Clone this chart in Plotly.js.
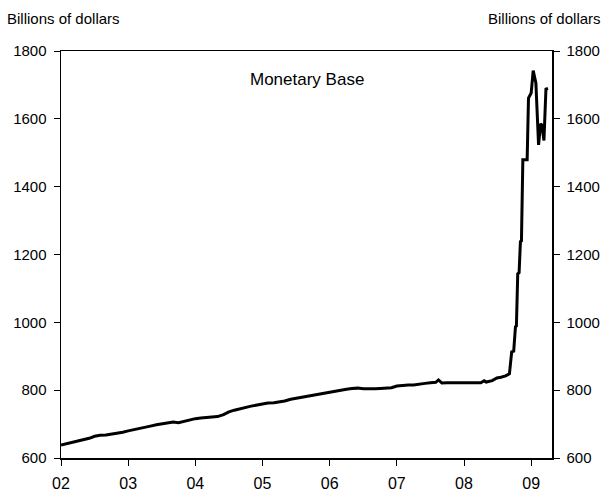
<!DOCTYPE html>
<html>
<head>
<meta charset="utf-8">
<script src="https://cdn.plot.ly/plotly-3.0.1.min.js"></script>
<style>html,body{margin:0;padding:0;background:#fff;}#chart{width:606px;height:491px;}</style>
</head>
<body>
<div id="chart"></div>
<script>
// Dates as fractional years, values in billions of dollars
const dates = [
  2002.00,2002.08,2002.17,2002.25,2002.33,2002.42,2002.50,2002.58,2002.67,2002.75,2002.83,2002.92,
  2003.00,2003.08,2003.17,2003.25,2003.33,2003.42,2003.50,2003.58,2003.67,2003.75,2003.83,2003.92,
  2004.00,2004.08,2004.17,2004.25,2004.33,2004.42,2004.50,2004.58,2004.67,2004.75,2004.83,2004.92,
  2005.00,2005.08,2005.17,2005.25,2005.33,2005.42,2005.50,2005.58,2005.67,2005.75,2005.83,2005.92,
  2006.00,2006.08,2006.17,2006.25,2006.33,2006.42,2006.50,2006.58,2006.67,2006.75,2006.83,2006.92,
  2007.00,2007.08,2007.17,2007.25,2007.33,2007.42,2007.50,2007.58,2007.62,2007.67,2007.75,2007.83,2007.92,
  2008.00,2008.08,2008.17,2008.25,2008.30,2008.33,2008.42,2008.49,2008.55,2008.62,2008.676,
  2008.71,2008.74,2008.766,2008.78,2008.80,2008.82,2008.84,2008.855,2008.876,2008.94,2008.96,
  2009.00,2009.03,2009.07,2009.11,2009.14,2009.16,2009.19,2009.22,2009.25
];
const monetaryBase = [
  638,642,645,650,653,658,664,667,668,670,672,676,
  680,683,686,690,694,698,700,702,706,704,708,712,
  716,718,720,720,722,728,736,741,746,750,753,756,
  760,762,763,765,768,773,776,778,781,785,789,792,
  795,797,800,803,805,806,804,803,804,805,806,807,
  812,814,815,815,818,820,822,823,830,821,822,822,822,
  822,820,820,822,828,824,828,836,838,842,848,
  913,915,987,989,1143,1146,1238,1240,1479,1479,1661,
  1676,1742,1706,1523,1585,1582,1536,1688,1690
];
const yearTicks = [2002,2003,2004,2005,2006,2007,2008,2009];
const yearLabels = ["02","03","04","05","06","07","08","09"];
const valueTicks = [600,800,1000,1200,1400,1600,1800];

const font = {family: "Liberation Sans, Arial, sans-serif", size: 15, color: "#000"};

const traces = [
  {x: dates, y: monetaryBase, type: "scatter", mode: "lines",
   line: {color: "#000", width: 3}, hoverinfo: "skip", showlegend: false},
  {x: dates, y: monetaryBase, type: "scatter", mode: "lines", yaxis: "y2",
   line: {color: "rgba(0,0,0,0)", width: 0}, hoverinfo: "skip", showlegend: false}
];

const axisY = {
  range: [600, 1800], tickvals: valueTicks, ticks: "outside", ticklen: 6, tickwidth: 1,
  tickcolor: "#000", showline: true, linecolor: "#000", linewidth: 1.5, showgrid: false,
  zeroline: false, tickfont: font, fixedrange: true, ticklabelstandoff: 4
};

const layout = {
  width: 606, height: 491,
  margin: {l: 61, r: 54, t: 51, b: 33},
  paper_bgcolor: "#fff", plot_bgcolor: "#fff",
  font: font,
  showlegend: false,
  xaxis: {
    range: [2002, 2009.31], tickvals: yearTicks, ticktext: yearLabels,
    ticks: "outside", ticklen: 6, tickwidth: 1, tickcolor: "#000",
    showline: true, mirror: true, linecolor: "#000", linewidth: 1.5,
    showgrid: false, zeroline: false, tickfont: {family: font.family, size: 16, color: "#000"},
    ticklabelstandoff: 4
  },
  yaxis: Object.assign({}, axisY, {side: "left"}),
  yaxis2: Object.assign({}, axisY, {side: "right", overlaying: "y"}),
  annotations: [
    {text: "Billions of dollars", xref: "paper", yref: "paper", x: -0.114, y: 1.081,
     xanchor: "left", yanchor: "middle", showarrow: false, font: font},
    {text: "Billions of dollars", xref: "paper", yref: "paper", x: 1.104, y: 1.081,
     xanchor: "right", yanchor: "middle", showarrow: false, font: font},
    {text: "Monetary Base", xref: "paper", yref: "paper", x: 0.501, y: 0.931,
     xanchor: "center", yanchor: "middle", showarrow: false,
     font: {family: font.family, size: 17, color: "#000"}}
  ]
};

Plotly.newPlot("chart", traces, layout, {displayModeBar: false, staticPlot: true});
</script>
</body>
</html>
